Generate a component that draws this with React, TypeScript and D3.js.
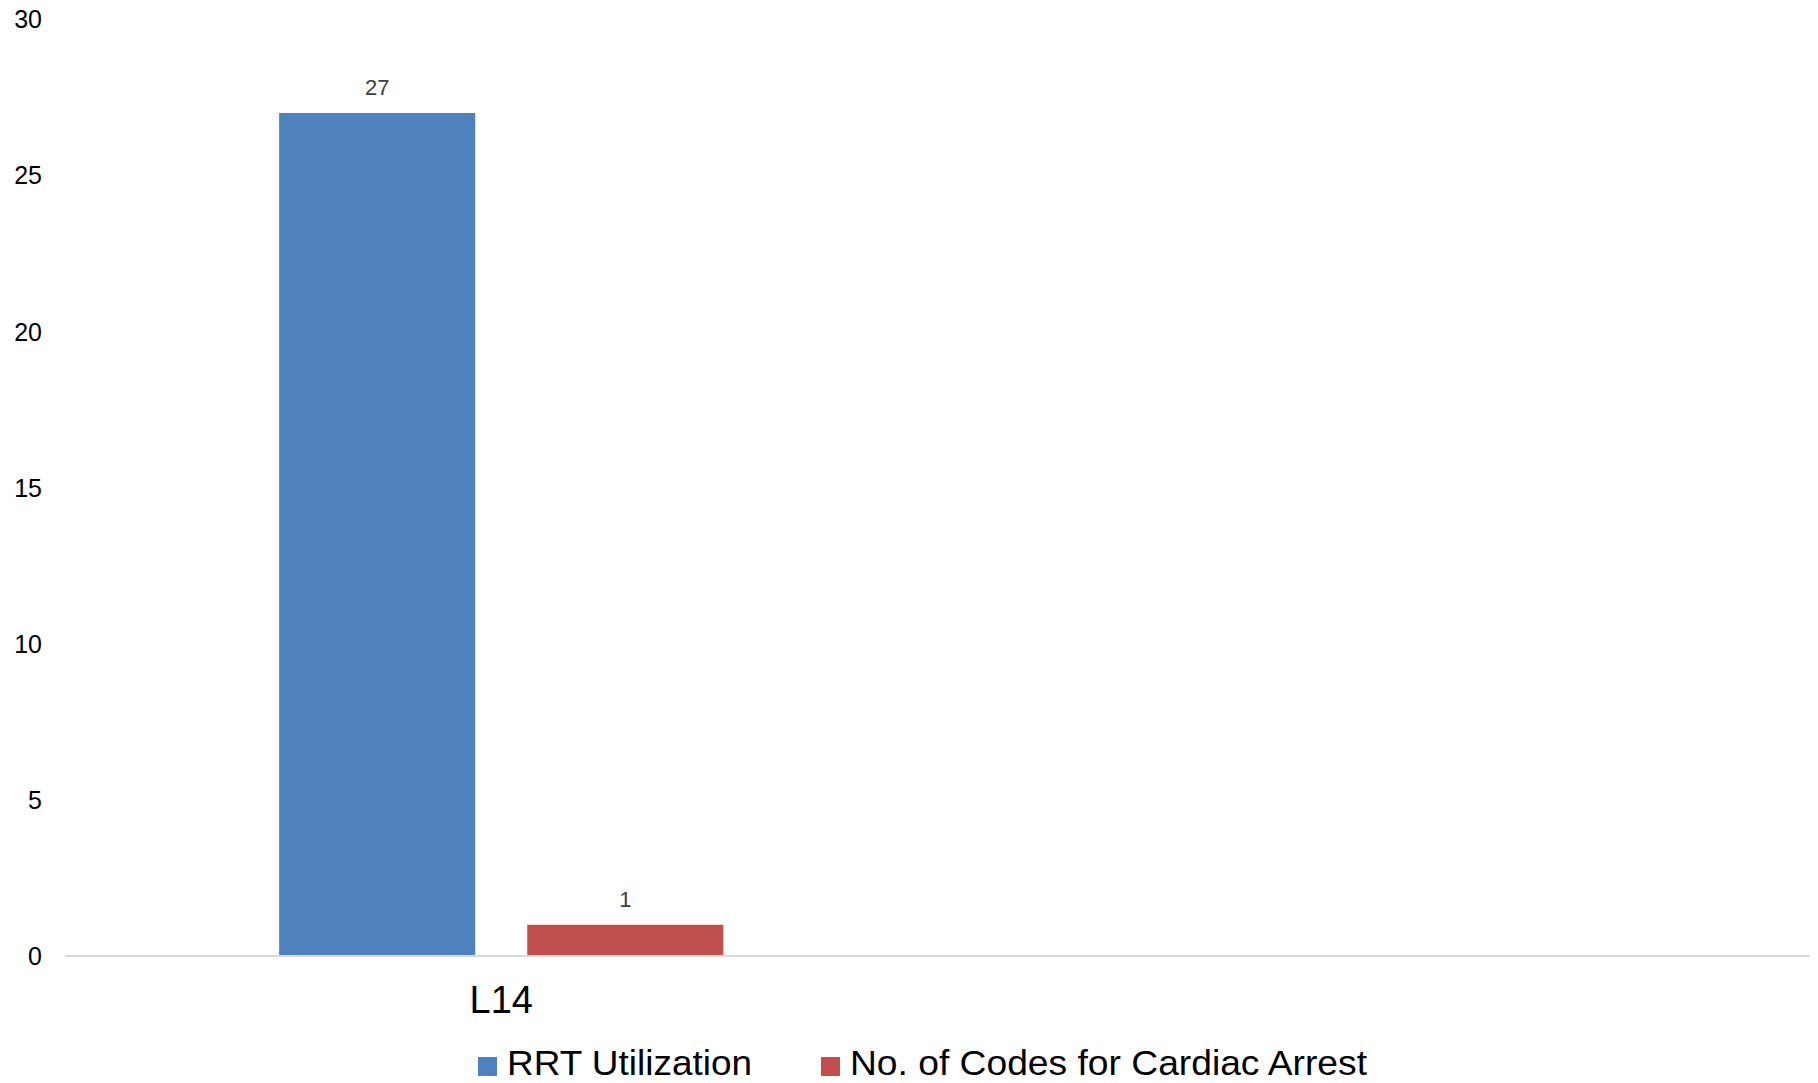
import React from "react";
import * as d3 from "d3";

const categories = ["L14", ""];
const seriesNames = ["RRT Utilization", "No. of Codes for Cardiac Arrest"];
const rrtValues: (number | null)[] = [27, null];
const codeValues: (number | null)[] = [1, null];
const yTicks = [0, 5, 10, 15, 20, 25, 30];
const colors = ["#4F81BD", "#C0504D"];

const W = 1818;
const H = 1083;

export default function App() {
  const plotLeft = 65;
  const plotRight = 1810;
  const y0 = 956;
  const yTop = 19.3;
  const y = d3.scaleLinear().domain([0, 30]).range([y0, yTop]);
  const x = d3.scaleBand<string>().domain(categories).range([plotLeft, plotRight]).paddingInner(0).paddingOuter(0);
  const xs = d3
    .scaleBand<string>()
    .domain(seriesNames)
    .range([0, x.bandwidth()])
    .paddingInner(0.2097)
    .paddingOuter(0.863);
  const seriesValues = [rrtValues, codeValues];
  const font = "'Liberation Sans', Arial, sans-serif";

  const legendItems = [
    { sq: 478, tx: 507, len: 245 },
    { sq: 821, tx: 850, len: 517 },
  ];

  return (
    <div style={{ position: "absolute", left: 0, top: 0 }}>
      <svg width={W} height={H} style={{ display: "block", background: "#fff" }}>
        {yTicks.map((t) => (
          <text
            key={t}
            x={42}
            y={y(t)}
            textAnchor="end"
            dominantBaseline="central"
            fontFamily={font}
            fontSize={25}
            fill="#000"
          >
            {t}
          </text>
        ))}
        {categories.map((c, ci) =>
          seriesNames.map((s, si) => {
            const v = seriesValues[si][ci];
            if (v == null) return null;
            const bx = (x(c) ?? 0) + (xs(s) ?? 0);
            return (
              <g key={c + s}>
                <rect x={bx} y={y(v)} width={xs.bandwidth()} height={y0 - y(v)} fill={colors[si]} />
                <text
                  x={bx + xs.bandwidth() / 2}
                  y={y(v) - 18}
                  textAnchor="middle"
                  fontFamily={font}
                  fontSize={22}
                  fill="#404040"
                >
                  {v}
                </text>
              </g>
            );
          })
        )}
        <line x1={plotLeft} x2={plotRight} y1={y0} y2={y0} stroke="#D9D9D9" strokeWidth={2} />
        {categories.map((c) => (
          <text
            key={"lab" + c}
            x={(x(c) ?? 0) + x.bandwidth() / 2}
            y={1013}
            textAnchor="middle"
            fontFamily={font}
            fontSize={38}
            fill="#000"
          >
            {c}
          </text>
        ))}
        {seriesNames.map((s, i) => (
          <g key={"leg" + s}>
            <rect x={legendItems[i].sq} y={1057} width={19} height={19} fill={colors[i]} />
            <text
              x={legendItems[i].tx}
              y={1075}
              fontFamily={font}
              fontSize={35}
              fill="#000"
              textLength={legendItems[i].len}
              lengthAdjust="spacingAndGlyphs"
            >
              {s}
            </text>
          </g>
        ))}
      </svg>
    </div>
  );
}
